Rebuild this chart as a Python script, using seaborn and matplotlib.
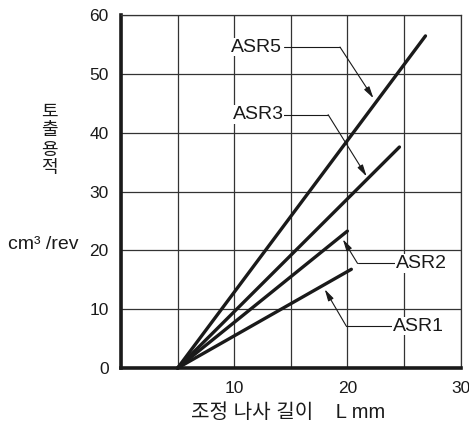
import matplotlib
matplotlib.use("Agg")
import matplotlib.pyplot as plt
import seaborn as sns
import pandas as pd

# pump models and their lines (start -> end), x = adjusting screw length L mm
models = ["ASR1", "ASR2", "ASR3", "ASR5"]
x_start = [5.0, 5.0, 5.0, 5.0]
x_end = [20.35, 20.0, 24.6, 26.9]
y_start = [0.0, 0.0, 0.0, 0.0]
y_end = [16.8, 23.3, 37.6, 56.5]

x_ticks = [10, 20, 30]
y_ticks = [0, 10, 20, 30, 40, 50, 60]

rows = []
for m, x0, x1, y0, y1 in zip(models, x_start, x_end, y_start, y_end):
    rows.append({"model": m, "L": x0, "Q": y0})
    rows.append({"model": m, "L": x1, "Q": y1})
df = pd.DataFrame(rows)

sns.set_style("white")
plt.rcParams['font.family'] = ['Liberation Sans', 'Noto Sans CJK KR', 'DejaVu Sans']

fig = plt.figure(figsize=(4.69, 4.26), dpi=100)
ax = fig.add_axes([0.258, 0.136, 0.724, 0.828])

sns.lineplot(data=df, x="L", y="Q", units="model", estimator=None,
             color="#1a1a1a", linewidth=2.4, ax=ax, legend=False, clip_on=False,
             zorder=3)

ax.set_xlim(0, 30)
ax.set_ylim(0, 60)
grid_x = [0, 5, 10, 15, 20, 25, 30]
ax.set_xticks(grid_x)
ax.set_xticklabels([str(t) if t in x_ticks else "" for t in grid_x])
ax.set_yticks(y_ticks)
ax.set_yticklabels([str(t) for t in y_ticks])
ax.tick_params(length=0, labelsize=12.5, colors="#1a1a1a", pad=9)
ax.grid(True, color="#333333", linewidth=0.9)
ax.set_axisbelow(True)
for s in ["top", "right"]:
    ax.spines[s].set_linewidth(0.9)
    ax.spines[s].set_color("#333333")
for s in ["left", "bottom"]:
    ax.spines[s].set_linewidth(2.6)
    ax.spines[s].set_color("#1a1a1a")
ax.set_xlabel("")
ax.set_ylabel("")

# leader labels: text position, horizontal line, arrow tip
labels = [
    # name, text x, text y, line from, corner x, tip x, tip y
    ("ASR5", 9.75, 54.6, 14.4, 19.35, 22.3, 45.9),
    ("ASR3", 9.85, 43.1, 14.3, 18.3, 21.7, 32.6),
    ("ASR2", 24.3, 17.8, 24.2, 20.9, 19.6, 21.9),
    ("ASR1", 24.0, 7.15, 23.9, 19.9, 18.0, 13.4),
]
for name, tx, ty, lx, cx, px, py in labels:
    ax.text(tx, ty, name, fontsize=14, ha="left", va="center", color="#1a1a1a",
            zorder=5, bbox=dict(facecolor="white", edgecolor="none", pad=0.5))
    ax.plot([lx, cx], [ty, ty], color="#1a1a1a", linewidth=0.8, zorder=4)
    ax.annotate("", xy=(px, py), xytext=(cx, ty),
                arrowprops=dict(arrowstyle="-|>,head_length=0.7,head_width=0.18",
                                color="#1a1a1a", lw=0.8, mutation_scale=10,
                                shrinkA=0, shrinkB=0), zorder=4)

# vertical stacked y label
for i, ch in enumerate("토출용적"):
    fig.text(49 / 469, 1 - (112 + 19 * i) / 426, ch, fontsize=13,
             ha="center", va="center", color="#1a1a1a")
fig.text(8 / 469, 1 - 244 / 426, "cm³ /rev", fontsize=14, ha="left",
         va="center", color="#1a1a1a")
fig.text(288 / 469, 1 - 412 / 426, "조정 나사 길이    L mm", fontsize=14.5,
         ha="center", va="center", color="#1a1a1a")

fig.savefig("out.png", dpi=100)
